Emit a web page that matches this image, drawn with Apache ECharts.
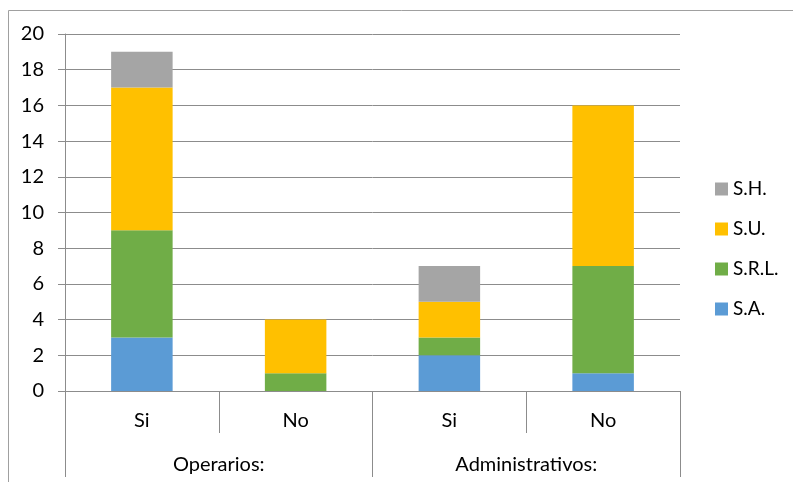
<!DOCTYPE html>
<html>
<head>
<meta charset="utf-8">
<script src="https://cdn.jsdelivr.net/npm/echarts@6/dist/echarts.min.js"></script>
<style>
  html, body { margin: 0; padding: 0; background: #fff; }
  #chart { width: 793px; height: 482px; }
</style>
</head>
<body>
<div id="chart"></div>
<script>
// Categories: answer (Si / No) inside each staff group
const answers = ['Si', 'No', 'Si', 'No'];
const groups = ['Operarios:', 'Administrativos:'];

// Counts per company type, stacked from the bottom
const seriesNames = ['S.A.', 'S.R.L.', 'S.U.', 'S.H.'];
const valuesSA  = [3, 0, 2, 1];
const valuesSRL = [6, 1, 1, 6];
const valuesSU  = [8, 3, 2, 9];
const valuesSH  = [2, 0, 2, 0];

// Y axis range
const yMin = 0, yMax = 20, yStep = 2;

const colors = {
  'S.A.': '#5B9BD5',
  'S.R.L.': '#70AD47',
  'S.U.': '#FFC000',
  'S.H.': '#A5A5A5'
};
const lineGray = '#8C8C8C';
const fontFamily = 'Lato, "Open Sans", sans-serif';
const fontSize = 20;

const valueSets = [valuesSA, valuesSRL, valuesSU, valuesSH];

const chart = echarts.init(document.getElementById('chart'));
chart.setOption({
  animation: false,
  backgroundColor: '#fff',
  textStyle: { fontFamily: fontFamily },
  grid: { left: 65, right: 113, top: 34, bottom: 91, containLabel: false },
  legend: {
    orient: 'vertical',
    left: 715,
    top: 179,
    padding: 0,
    icon: 'rect',
    itemWidth: 13,
    itemHeight: 13,
    itemGap: 20,
    data: seriesNames.slice().reverse(),
    textStyle: { fontFamily: fontFamily, fontSize: 19, color: '#000', lineHeight: 20 }
  },
  xAxis: [
    {
      type: 'category',
      data: answers,
      position: 'bottom',
      axisLine: { show: true, lineStyle: { color: lineGray, width: 1 } },
      axisTick: { show: true, length: 42, lineStyle: { color: lineGray } },
      axisLabel: { margin: 20, fontSize: fontSize, color: '#000', fontFamily: fontFamily },
      splitLine: { show: false }
    },
    {
      type: 'category',
      data: groups,
      position: 'bottom',
      axisLine: { show: false },
      axisTick: { show: true, length: 86, lineStyle: { color: lineGray } },
      axisLabel: { margin: 64, fontSize: fontSize, color: '#000', fontFamily: fontFamily },
      splitLine: { show: false }
    }
  ],
  yAxis: {
    type: 'value',
    min: yMin,
    max: yMax,
    interval: yStep,
    axisLine: { show: true, lineStyle: { color: lineGray } },
    axisTick: { show: true, length: 7, lineStyle: { color: lineGray } },
    axisLabel: { margin: 21, fontSize: fontSize, color: '#000', fontFamily: fontFamily },
    splitLine: { show: true, lineStyle: { color: lineGray, width: 1 } }
  },
  graphic: [
    {
      type: 'rect',
      shape: { x: 8.5, y: 10.5, width: 900, height: 600 },
      style: { fill: 'none', stroke: '#A0A0A0', lineWidth: 1 },
      silent: true,
      z: -10
    }
  ],
  series: seriesNames.map((name, i) => ({
    name: name,
    type: 'bar',
    stack: 'total',
    xAxisIndex: 0,
    barWidth: '40%',
    itemStyle: { color: colors[name] },
    data: valueSets[i]
  }))
});
</script>
</body>
</html>
